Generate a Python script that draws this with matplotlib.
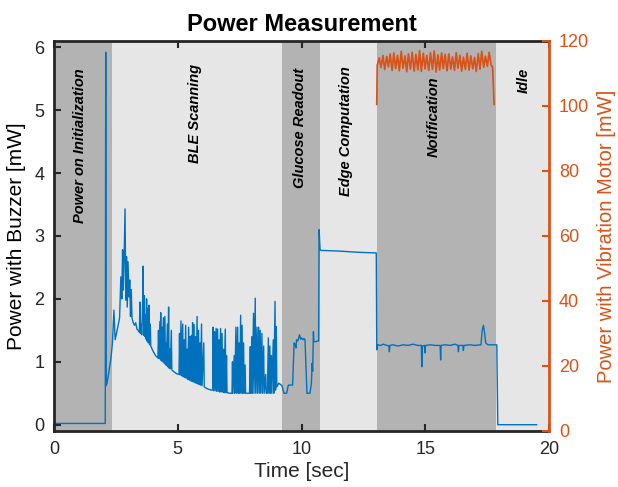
import matplotlib
matplotlib.use("Agg")
import matplotlib.pyplot as plt
import numpy as np

plt.rcParams['font.family'] = ['Liberation Sans', 'DejaVu Sans']

blue = '#0072BD'
orange = '#D95319'
dark = '#b3b3b3'
light = '#e6e6e6'
frame = '#262626'

# phase boundaries [sec] and names
phase_edges = [0, 2.34, 9.21, 10.75, 13.05, 17.86, 20]
phase_names = ['Power on Initialization', 'BLE Scanning', 'Glucose Readout',
               'Edge Computation', 'Notification', 'Idle']
phase_shade = [dark, light, dark, light, dark, light]
label_t = [1.07, 5.70, 9.92, 11.78, 15.33, 18.97]
label_p = [4.43, 4.95, 4.71, 4.66, 4.90, 5.47]

# power with buzzer [mW]
t_init = [0, 2.07, 2.09, 2.11, 2.14, 2.2, 2.3, 2.36, 2.42, 2.47, 2.55, 2.65,
          2.7, 2.74, 2.77, 2.8, 2.83, 2.87, 2.9, 2.93, 2.96, 2.99, 3.03, 3.06,
          3.09, 3.12, 3.15, 3.2, 3.25, 3.3, 3.35, 3.4]
p_init = [0.02, 0.02, 5.92, 0.62, 0.66, 0.8, 1.05, 1.3, 1.82, 1.35, 1.5, 1.7,
          2.35, 2.0, 2.78, 2.14, 2.6, 3.43, 1.98, 2.67, 1.87, 2.59, 2.03, 2.3,
          1.72, 2.15, 1.7, 1.62, 1.58, 1.62, 1.52, 1.5]

t_ble = [3.45, 3.47, 3.49, 3.52, 3.54, 3.58, 3.60, 3.62, 3.65, 3.67, 3.70, 3.72,
         3.74, 3.76, 3.79, 3.81, 3.84, 3.86, 3.89, 3.91, 4.0, 4.1,
         4.2, 4.22, 4.24, 4.28, 4.30, 4.31, 4.33, 4.36, 4.38, 4.42, 4.44, 4.48,
         4.50, 4.52, 4.54, 4.58, 4.60, 4.63, 4.65, 4.68, 4.70, 4.74, 4.76, 4.85,
         4.95,
         5.05, 5.07, 5.09, 5.13, 5.15, 5.2, 5.22, 5.26, 5.28, 5.32, 5.34, 5.38,
         5.40, 5.44, 5.46, 5.49, 5.51, 5.55, 5.57, 5.6, 5.62, 5.66, 5.68, 5.72,
         5.74, 5.78, 5.80, 5.84, 5.86, 5.9, 5.92, 5.96, 5.98, 6.05, 6.07, 6.2,
         6.35,
         6.41, 6.43, 6.45, 6.49, 6.51, 6.55, 6.57, 6.61, 6.63, 6.67, 6.69, 6.73,
         6.75, 6.79, 6.81, 6.85, 6.87, 6.92, 6.94, 6.97, 6.99, 7.1,
         7.19, 7.21, 7.23, 7.28, 7.30, 7.35, 7.37, 7.42, 7.44, 7.48, 7.50, 7.54,
         7.56, 7.60, 7.62, 7.66, 7.68, 7.72, 7.74, 7.9,
         7.93, 7.95, 7.99, 8.01, 8.06, 8.08, 8.13, 8.15, 8.2, 8.22, 8.27, 8.29,
         8.33, 8.35, 8.4, 8.42, 8.47, 8.49, 8.55, 8.57, 8.62,
         8.66, 8.68, 8.72, 8.74, 8.78, 8.80, 8.86, 8.88, 8.93, 8.95, 8.98, 9.0,
         9.08, 9.15, 9.21]
p_ble = [1.47, 1.95, 1.45, 1.6, 1.43, 1.9, 2.52, 1.42, 2.05, 1.4, 1.75, 1.36,
         2.0, 1.33, 1.85, 1.3, 1.9, 1.27, 1.6, 1.25, 1.17, 1.1,
         1.06, 1.5, 1.05, 1.64, 1.04, 1.78, 1.02, 1.55, 1.0, 1.7, 0.98, 1.72,
         0.96, 1.3, 0.94, 1.6, 0.92, 1.87, 0.9, 1.2, 0.89, 1.5, 0.87, 0.84,
         0.81,
         0.8, 1.45, 0.79, 1.65, 0.78, 1.6, 0.76, 1.35, 0.75, 1.58, 0.74, 1.2,
         0.72, 1.55, 0.71, 1.4, 0.70, 1.42, 0.69, 1.62, 0.68, 1.59, 0.67, 1.4,
         0.66, 1.72, 0.65, 1.5, 0.64, 1.3, 0.63, 1.6, 0.62, 1.3, 0.6, 0.57,
         0.55,
         0.55, 1.55, 0.54, 1.48, 0.54, 1.53, 0.53, 1.52, 0.53, 1.35, 0.52, 1.53,
         0.52, 1.45, 0.52, 1.2, 0.51, 1.52, 0.51, 1.1, 0.51, 0.5,
         0.5, 1.0, 0.5, 1.1, 0.5, 1.55, 0.5, 1.55, 0.5, 1.3, 0.5, 1.74,
         0.5, 1.58, 0.5, 1.3, 0.5, 0.95, 0.5, 0.5,
         1.24, 0.5, 1.4, 0.5, 1.77, 0.5, 2.01, 0.5, 1.55, 0.5, 1.55, 0.5,
         1.5, 0.5, 1.45, 0.5, 1.25, 0.5, 0.8, 0.5, 0.5,
         1.38, 0.5, 1.25, 0.5, 1.1, 0.5, 1.35, 0.5, 1.96, 0.55, 1.56, 0.6,
         0.66, 0.64, 0.62]

t_gluc = [9.29, 9.4, 9.45, 9.47, 9.64, 9.68, 9.70, 9.74, 9.78, 9.8, 9.85, 9.88,
          9.92, 9.96, 10.0, 10.05, 10.1, 10.14, 10.18, 10.22, 10.34, 10.4,
          10.43, 10.45, 10.48, 10.5, 10.58, 10.65, 10.69]
p_gluc = [0.5, 0.5, 0.6, 0.63, 0.63, 1.1, 1.3, 1.28, 1.22, 1.35, 1.33, 1.37,
          1.43, 1.36, 1.38, 1.35, 1.37, 1.35, 0.92, 0.5, 0.5, 0.66,
          0.98, 0.85, 1.48, 1.32, 1.32, 1.33, 1.33]

t_edge = [10.71, 10.75, 10.8, 11.5, 12.3, 13.02]
p_edge = [3.10, 2.78, 2.77, 2.76, 2.74, 2.73]

t_notif = [13.04, 13.08, 13.2, 13.3, 13.45, 13.53, 13.55, 13.57, 13.7, 13.9,
           14.1, 14.3, 14.5, 14.7, 14.84, 14.86, 14.88, 14.97, 14.99, 15.01,
           15.2, 15.4, 15.6, 15.62, 15.64, 15.8, 16.0, 16.2, 16.32, 16.34,
           16.36, 16.52, 16.54, 16.56, 16.8, 17.0, 17.25, 17.3, 17.35, 17.4,
           17.44, 17.53, 17.7, 17.89]
p_notif = [1.19, 1.27, 1.26, 1.28, 1.26, 1.25, 1.16, 1.26, 1.27, 1.25,
           1.27, 1.26, 1.28, 1.26, 1.26, 0.92, 1.25, 1.26, 1.14, 1.26,
           1.27, 1.26, 1.26, 1.03, 1.26, 1.27, 1.26, 1.28, 1.26, 1.16,
           1.26, 1.26, 1.18, 1.26, 1.27, 1.26, 1.27, 1.5, 1.58, 1.45,
           1.30, 1.27, 1.27, 1.27]

t_idle = [17.93, 19.5]
p_idle = [0.0, 0.0]

# power with vibration motor [mW], only during notification
t_motor = [13.04, 13.06, 13.14, 13.21, 13.29, 13.36, 13.44, 13.51, 13.58, 13.66,
           13.73, 13.80, 13.88, 13.95, 14.03, 14.10, 14.18, 14.25, 14.32, 14.40,
           14.47, 14.55, 14.62, 14.70, 14.77, 14.84, 14.92, 14.99, 15.06, 15.14,
           15.21, 15.29, 15.36, 15.44, 15.51, 15.58, 15.66, 15.73, 15.80, 15.88,
           15.95, 16.03, 16.10, 16.18, 16.25, 16.32, 16.40, 16.47, 16.54, 16.62,
           16.69, 16.77, 16.84, 16.92, 16.99, 17.06, 17.14, 17.21, 17.28, 17.36,
           17.43, 17.51, 17.58, 17.66, 17.72, 17.78]
p_motor = [100.5, 112.5, 114.8, 111.8, 115.5, 111.2, 115.2, 112.0, 116.0, 110.9,
           116.3, 111.5, 115.6, 110.8, 116.8, 111.6, 115.4, 110.5, 116.0, 111.3,
           116.5, 110.7, 115.8, 111.1, 117.0, 110.6, 116.2, 111.4, 115.5, 110.9,
           116.4, 111.2, 116.9, 110.4, 115.7, 111.0, 116.3, 111.5, 115.9, 110.8,
           116.0, 111.3, 115.1, 110.9, 116.4, 111.6, 115.6, 110.7, 115.0, 111.2,
           116.2, 111.0, 115.4, 111.4, 114.9, 110.6, 116.1, 111.3, 116.8, 111.9,
           115.3, 112.2, 116.5, 112.5, 112.0, 100.5]

t_buzz = t_init + t_ble + t_gluc + t_edge + t_notif + t_idle
p_buzz = p_init + p_ble + p_gluc + p_edge + p_notif + p_idle

fig = plt.figure(figsize=(6.18, 4.87), dpi=100)
ax = fig.add_axes([0.0874, 0.115, 0.8010, 0.801])

for i in range(len(phase_names)):
    ax.axvspan(phase_edges[i], phase_edges[i + 1], color=phase_shade[i], lw=0, zorder=0)
    ax.text(label_t[i], label_p[i], phase_names[i], rotation=90, ha='center', va='center',
            fontsize=10.5, fontweight='bold', fontstyle='italic', color='black', zorder=3)

ax.plot(t_buzz, p_buzz, color=blue, lw=1.0, zorder=2)
ax.set_xlim(0, 20)
ax.set_ylim(-0.1, 6.1)
ax.set_xticks([0, 5, 10, 15, 20])
ax.set_yticks(range(7))
ax.set_xlabel('Time [sec]', fontsize=15, color=frame, labelpad=3)
ax.set_ylabel('Power with Buzzer [mW]', fontsize=15, color='black', labelpad=6)
ax.set_title('Power Measurement', fontsize=17, fontweight='bold', pad=7)
ax.tick_params(axis='x', direction='in', top=True, length=5, width=1.5,
               labelsize=13, colors=frame, pad=7)
ax.tick_params(axis='y', direction='in', right=False, length=5, width=1.5,
               labelsize=13, colors=frame, pad=7)
for s in ['top', 'bottom', 'left']:
    ax.spines[s].set_linewidth(2)
    ax.spines[s].set_color(frame)
ax.spines['right'].set_visible(False)

ax2 = ax.twinx()
ax2.plot(t_motor, p_motor, color=orange, lw=1.25, zorder=2)
ax2.set_ylim(0, 120)
ax2.set_yticks(range(0, 121, 20))
ax2.set_ylabel('Power with Vibration Motor [mW]', fontsize=14.5, color=orange, labelpad=6)
ax2.tick_params(axis='y', direction='in', length=5, width=1.5, labelsize=13,
                colors=orange, pad=7)
for s in ['top', 'bottom', 'left']:
    ax2.spines[s].set_visible(False)
ax2.spines['right'].set_linewidth(2)
ax2.spines['right'].set_color(orange)

fig.savefig('out.png', dpi=100)
